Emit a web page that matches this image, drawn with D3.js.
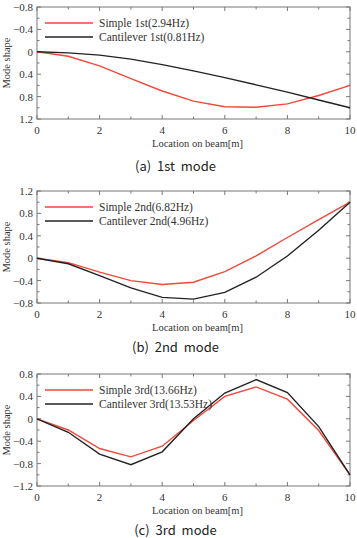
<!DOCTYPE html>
<html>
<head>
<meta charset="utf-8">
<script src="https://cdn.jsdelivr.net/npm/d3@7"></script>
<style>
  body { margin: 0; background: #fff; }
  svg text { font-family: "Liberation Serif", "Times New Roman", serif; fill: #333; }
  svg text.caption { font-family: "Noto Sans CJK KR", "DejaVu Sans", sans-serif; font-size: 13px; fill: #222; word-spacing: 3px; }
</style>
</head>
<body>
<svg id="chart" width="357" height="538"></svg>
<script>
// 보 위치 (m)
var locations = [0, 1, 2, 3, 4, 5, 6, 7, 8, 9, 10];

// 1st mode
var simple1 = [0, 0.08, 0.25, 0.48, 0.70, 0.88, 0.98, 0.99, 0.93, 0.78, 0.60];
var canti1  = [0, 0.02, 0.06, 0.13, 0.23, 0.34, 0.46, 0.59, 0.72, 0.86, 1.00];
// 2nd mode
var simple2 = [0, -0.08, -0.25, -0.40, -0.47, -0.43, -0.24, 0.04, 0.37, 0.69, 1.00];
var canti2  = [0, -0.10, -0.31, -0.53, -0.70, -0.73, -0.61, -0.34, 0.04, 0.50, 1.00];
// 3rd mode
var simple3 = [0, -0.20, -0.53, -0.68, -0.49, -0.03, 0.40, 0.57, 0.35, -0.21, -1.00];
var canti3  = [0, -0.24, -0.63, -0.82, -0.59, 0.00, 0.46, 0.70, 0.47, -0.14, -1.00];

var legend1 = ["Simple 1st(2.94Hz)", "Cantilever 1st(0.81Hz)"];
var legend2 = ["Simple 2nd(6.82Hz)", "Cantilever 2nd(4.96Hz)"];
var legend3 = ["Simple 3rd(13.66Hz)", "Cantilever 3rd(13.53Hz)"];

var xTicks = [0, 2, 4, 6, 8, 10];
var yTicks1 = [-0.8, -0.4, 0, 0.4, 0.8, 1.2];
var yTicks2 = [1.2, 0.8, 0.4, 0, -0.4, -0.8];
var yTicks3 = [0.8, 0.4, 0, -0.4, -0.8, -1.2];

var captions = ["(a) 1st mode", "(b) 2nd mode", "(c) 3rd mode"];

var svg = d3.select('svg#chart');
var left = 37, right = 350;

function drawPanel(top, height, yDomain, yTicks, series, names, caption, capY) {
  var g = svg.append('g');
  var x = d3.scaleLinear().domain([0, 10]).range([left, right]);
  var y = d3.scaleLinear().domain(yDomain).range([top, top + height]);
  var step = 0.2;

  // 눈금 (안쪽, 네 변 모두)
  var xs = d3.range(0, 10.01, 1);
  xs.forEach(function(v) {
    var len = (v % 2 === 0) ? 4 : 2.5;
    g.append('line').attr('x1', x(v)).attr('x2', x(v))
      .attr('y1', top + height).attr('y2', top + height - len)
      .attr('stroke', '#777').attr('stroke-width', 1);
    g.append('line').attr('x1', x(v)).attr('x2', x(v))
      .attr('y1', top).attr('y2', top + len)
      .attr('stroke', '#777').attr('stroke-width', 1);
  });
  var lo = Math.min(yDomain[0], yDomain[1]), hi = Math.max(yDomain[0], yDomain[1]);
  var n = Math.round((hi - lo) / step);
  for (var i = 0; i <= n; i++) {
    var v = lo + i * step;
    var len = (i % 2 === 0) ? 4 : 2.5;
    g.append('line').attr('x1', left).attr('x2', left + len)
      .attr('y1', y(v)).attr('y2', y(v))
      .attr('stroke', '#777').attr('stroke-width', 1);
    g.append('line').attr('x1', right).attr('x2', right - len)
      .attr('y1', y(v)).attr('y2', y(v))
      .attr('stroke', '#777').attr('stroke-width', 1);
  }

  // frame
  g.append('rect')
    .attr('x', left).attr('y', top)
    .attr('width', right - left).attr('height', height)
    .attr('fill', 'none').attr('stroke', '#777').attr('stroke-width', 1);

  // tick labels
  xTicks.forEach(function(v) {
    g.append('text').attr('x', x(v)).attr('y', top + height + 15)
      .attr('text-anchor', 'middle').attr('font-size', 11).text(v);
  });
  yTicks.forEach(function(v) {
    g.append('text').attr('x', left - 4).attr('y', y(v) + 4)
      .attr('text-anchor', 'end').attr('font-size', 11)
      .text(v === 0 ? '0' : d3.format('.1f')(v));
  });

  // axis titles
  g.append('text').attr('x', (left + right) / 2 + 4).attr('y', top + height + 28)
    .attr('text-anchor', 'middle').attr('font-size', 10.5).text('Location on beam[m]');
  g.append('text')
    .attr('transform', 'translate(' + 10 + ',' + (top + height / 2) + ') rotate(-90)')
    .attr('text-anchor', 'middle').attr('font-size', 10.5).text('Mode shape');

  // lines
  var colors = ['#f0483a', '#222222'];
  var line = d3.line().x(function(d, i) { return x(locations[i]); }).y(function(d) { return y(d); });
  series.forEach(function(s, k) {
    g.append('path').datum(s).attr('d', line)
      .attr('fill', 'none').attr('stroke', colors[k]).attr('stroke-width', 1.4);
  });

  // legend
  names.forEach(function(nm, k) {
    var ly = top + 16 + k * 14;
    g.append('line').attr('x1', 45).attr('x2', 93).attr('y1', ly).attr('y2', ly)
      .attr('stroke', colors[k]).attr('stroke-width', 1.4);
    g.append('text').attr('x', 99).attr('y', ly + 4).attr('font-size', 11.5).text(nm);
  });

  // caption
  svg.append('text').attr('class', 'caption')
    .attr('x', (left + right) / 2 - 18).attr('y', capY)
    .attr('text-anchor', 'middle').text(caption);
}

drawPanel(7, 112, [-0.8, 1.2], yTicks1, [simple1, canti1], legend1, captions[0], 171);
drawPanel(191, 112, [1.2, -0.8], yTicks2, [simple2, canti2], legend2, captions[1], 352);
drawPanel(374, 112, [0.8, -1.2], yTicks3, [simple3, canti3], legend3, captions[2], 535);
</script>
</body>
</html>
